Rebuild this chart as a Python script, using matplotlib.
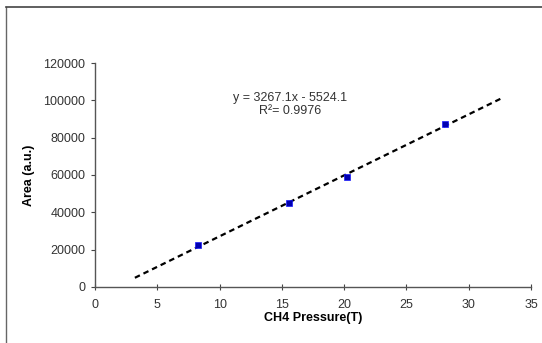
import matplotlib
matplotlib.use("Agg")
import matplotlib.pyplot as plt
from matplotlib.lines import Line2D
import numpy as np

# data
pressure = [8.3, 15.6, 20.2, 28.1]
area = [22500, 45000, 59000, 87500]
slope = 3267.1
intercept = -5524.1
r2 = 0.9976
fit_range = [3.2, 32.8]
xticks = [0, 5, 10, 15, 20, 25, 30, 35]
yticks = [0, 20000, 40000, 60000, 80000, 100000, 120000]

plt.rcParams["font.family"] = ["Liberation Sans", "DejaVu Sans"]

fig = plt.figure(figsize=(5.42, 3.43), dpi=100)
ax = fig.add_axes([0.1753, 0.1633, 0.8044, 0.653])

fit_x = np.array(fit_range)
ax.plot(fit_x, slope * fit_x + intercept, color="black", linestyle=(0, (2.5, 1.8)),
        linewidth=1.6, zorder=2)
ax.plot(pressure, area, linestyle="none", marker="s", markersize=5,
        color="#0000b0", markeredgecolor="#1a1aff", markeredgewidth=0.5, zorder=3)

ax.set_xlim(0, 35)
ax.set_ylim(0, 120000)
ax.set_xticks(xticks)
ax.set_yticks(yticks)
ax.tick_params(axis="both", labelsize=9, colors="#444444", labelcolor="#333333")
ax.tick_params(axis="x", direction="inout", length=5, width=0.8, pad=6)
ax.tick_params(axis="y", direction="out", length=3, width=0.8, pad=4)
for side in ("top", "right"):
    ax.spines[side].set_visible(False)
for side in ("left", "bottom"):
    ax.spines[side].set_color("#555555")
    ax.spines[side].set_linewidth(1.0)

ax.set_xlabel("CH4 Pressure(T)", fontsize=9, fontweight="bold", labelpad=1)
ax.set_ylabel("Area (a.u.)", fontsize=9, fontweight="bold", labelpad=6)

ax.text(15.65, 101500, f"y = {slope}x - {abs(intercept)}", fontsize=9,
        ha="center", va="center", color="#333333")
ax.text(15.65, 94500, f"R²= {r2}", fontsize=9,
        ha="center", va="center", color="#333333")

# outer frame lines (left and top only)
fig.add_artist(Line2D([6 / 542, 6 / 542], [0, 1 - 7 / 343], transform=fig.transFigure,
                      color="#666666", linewidth=1.0))
fig.add_artist(Line2D([6 / 542, 1], [1 - 7 / 343, 1 - 7 / 343], transform=fig.transFigure,
                      color="#444444", linewidth=1.2))

fig.savefig("out.png", dpi=100)
